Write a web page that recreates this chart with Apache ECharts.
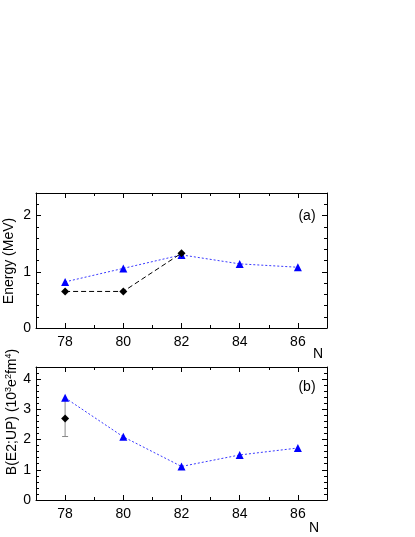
<!DOCTYPE html>
<html>
<head>
<meta charset="utf-8">
<script src="https://cdn.jsdelivr.net/npm/echarts@6/dist/echarts.min.js"></script>
<style>
  html, body { margin: 0; padding: 0; background: #fff; }
  #main { width: 415px; height: 537px; }
</style>
</head>
<body>
<div id="main"></div>
<script>
// neutron number N
var nCalc = [78, 80, 82, 84, 86];
// (a) excitation energy, MeV
var energyCalc = [0.82, 1.06, 1.30, 1.14, 1.08];
var nExpA = [78, 80, 82];
var energyExp = [0.65, 0.65, 1.33];
// (b) B(E2;UP), 10^3 e^2 fm^4
var be2Calc = [3.38, 2.09, 1.11, 1.49, 1.72];
var nExpB = [78];
var be2Exp = [2.70];
var be2ErrLow = [2.10];
var be2ErrHigh = [3.30];

// ticks
var xMajor = [78, 80, 82, 84, 86];
var xMinor = [79, 81, 83, 85];
var yMajorA = [0, 1, 2];
var yMinorA = [0.2, 0.4, 0.6, 0.8, 1.2, 1.4, 1.6, 1.8, 2.2];
var yMajorB = [0, 1, 2, 3, 4];
var yMinorB = [0.2, 0.4, 0.6, 0.8, 1.2, 1.4, 1.6, 1.8, 2.2, 2.4, 2.6, 2.8,
               3.2, 3.4, 3.6, 3.8, 4.2];

var font = "Liberation Sans, Arial, sans-serif";

function makeAxes(gi, pos, min, max, major, minor) {
  // main axis with labels + mirror side, each with major and minor ticks
  var other = { bottom: "top", top: "bottom", left: "right", right: "left" }[pos];
  var list = [];
  [pos, other].forEach(function (p, k) {
    list.push({
      type: "value", gridIndex: gi, position: p, min: min, max: max,
      splitLine: { show: false },
      axisLine: { show: true, onZero: false, lineStyle: { color: "#000", width: 1 } },
      axisTick: { show: true, inside: true, length: 5, customValues: major,
                  lineStyle: { color: "#000" } },
      axisLabel: { show: k === 0, customValues: major, color: "#000",
                   fontSize: 14, fontFamily: font, margin: p === "bottom" ? 7 : 5 }
    });
    list.push({
      type: "value", gridIndex: gi, position: p, min: min, max: max,
      splitLine: { show: false },
      axisLine: { show: false, onZero: false },
      axisTick: { show: true, inside: true, length: 3, customValues: minor,
                  lineStyle: { color: "#000" } },
      axisLabel: { show: false }
    });
  });
  return list;
}

function pairs(xs, ys) {
  return xs.map(function (x, i) { return [x, ys[i]]; });
}

var xAxes = makeAxes(0, "bottom", 77, 87, xMajor, xMinor)
  .concat(makeAxes(1, "bottom", 77, 87, xMajor, xMinor));
var yAxes = makeAxes(0, "left", 0, 2.4, yMajorA, yMinorA)
  .concat(makeAxes(1, "left", 0, 4.4, yMajorB, yMinorB));

var chart = echarts.init(document.getElementById("main"), null, { renderer: "canvas" });

var option = {
  backgroundColor: "#fff",
  animation: false,
  grid: [
    { left: 36, right: 88, top: 193, height: 135 },
    { left: 36, right: 88, top: 367, height: 133 }
  ],
  xAxis: xAxes,
  yAxis: yAxes,
  graphic: [
    { type: "text", left: null, x: 9, y: 261, rotation: Math.PI / 2,
      style: { text: "Energy (MeV)", fill: "#000", font: "14px " + font,
               align: "center", verticalAlign: "middle" } },
    { type: "text", x: 12, y: 412, rotation: Math.PI / 2,
      style: { text: "B(E2;UP) (10{s|3}e{s|2}fm{s|4})", fill: "#000",
               font: "14px " + font, align: "center", verticalAlign: "middle",
               rich: { s: { fontSize: 9, fontFamily: font, padding: [0, 0, 7, 0] } } } },
    { type: "text", x: 318, y: 354,
      style: { text: "N", fill: "#000", font: "14px " + font, align: "center", verticalAlign: "middle" } },
    { type: "text", x: 314, y: 528,
      style: { text: "N", fill: "#000", font: "14px " + font, align: "center", verticalAlign: "middle" } },
    { type: "text", x: 307, y: 216,
      style: { text: "(a)", fill: "#000", font: "14px " + font, align: "center", verticalAlign: "middle" } },
    { type: "text", x: 307, y: 387,
      style: { text: "(b)", fill: "#000", font: "14px " + font, align: "center", verticalAlign: "middle" } }
  ],
  series: [
    {
      type: "line", xAxisIndex: 0, yAxisIndex: 0,
      data: pairs(nCalc, energyCalc),
      symbol: "triangle", symbolSize: 8,
      itemStyle: { color: "#0000ff" },
      lineStyle: { color: "#3a3aff", width: 1, type: [2, 2] }
    },
    {
      type: "line", xAxisIndex: 0, yAxisIndex: 0,
      data: pairs(nExpA, energyExp),
      symbol: "diamond", symbolSize: 8,
      itemStyle: { color: "#000" },
      lineStyle: { color: "#000", width: 1, type: [5, 3] }
    },
    {
      type: "custom", xAxisIndex: 4, yAxisIndex: 4,
      data: nExpB.map(function (x, i) { return [x, be2ErrLow[i], be2ErrHigh[i]]; }),
      renderItem: function (params, api) {
        var lo = api.coord([api.value(0), api.value(1)]);
        var hi = api.coord([api.value(0), api.value(2)]);
        var style = { stroke: "#888", lineWidth: 1 };
        return {
          type: "group",
          children: [
            { type: "line", shape: { x1: lo[0], y1: lo[1], x2: hi[0], y2: hi[1] }, style: style },
            { type: "line", shape: { x1: lo[0] - 3, y1: lo[1], x2: lo[0] + 3, y2: lo[1] }, style: style },
            { type: "line", shape: { x1: hi[0] - 3, y1: hi[1], x2: hi[0] + 3, y2: hi[1] }, style: style }
          ]
        };
      }
    },
    {
      type: "line", xAxisIndex: 4, yAxisIndex: 4,
      data: pairs(nExpB, be2Exp),
      symbol: "diamond", symbolSize: 8,
      itemStyle: { color: "#000" }
    },
    {
      type: "line", xAxisIndex: 4, yAxisIndex: 4,
      data: pairs(nCalc, be2Calc),
      symbol: "triangle", symbolSize: 8,
      itemStyle: { color: "#0000ff" },
      lineStyle: { color: "#3a3aff", width: 1, type: [2, 2] }
    }
  ]
};

chart.setOption(option);
</script>
</body>
</html>
